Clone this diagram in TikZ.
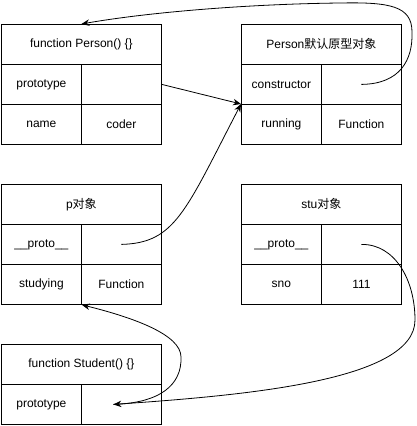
\documentclass[tikz,border=0pt]{standalone}
\usepackage{fontspec}
\setmainfont{Liberation Sans}
\newfontfamily\cjk{Noto Sans CJK SC}
\usetikzlibrary{arrows.meta}
\begin{document}
\begin{tikzpicture}[x=1pt,y=-1pt,
  cell/.style={draw, line width=0.8pt, minimum width=80pt, minimum height=40pt, inner sep=0pt, anchor=north west, font=\fontsize{12}{14}\selectfont},
  head/.style={cell, minimum width=160pt},
  link/.style={line width=0.8pt, -{Stealth[length=8pt,width=6.5pt]}}]
\useasboundingbox (0,0) rectangle (417,426);
% Person constructor
\node[head] (ph) at (1,24) {function Person() \{\}};
\node[cell] (ppk) at (1,64) {prototype};
\node[cell] (ppv) at (81,64) {};
\node[cell] (pnk) at (1,104) {name};
\node[cell] (pnv) at (81,104) {coder};
% Person prototype object
\node[head] (oh) at (241,24) {Person{\cjk 默认原型对象}};
\node[cell] (ock) at (241,64) {constructor};
\node[cell] (ocv) at (321,64) {};
\node[cell] (ork) at (241,104) {running};
\node[cell] (orv) at (321,104) {Function};
% p object
\node[head] (xh) at (1,184) {p{\cjk 对象}};
\node[cell] (xpk) at (1,224) {\_\_proto\_\_};
\node[cell] (xpv) at (81,224) {};
\node[cell] (xsk) at (1,264) {studying};
\node[cell] (xsv) at (81,264) {Function};
% stu object
\node[head] (sh) at (241,184) {stu{\cjk 对象}};
\node[cell] (spk) at (241,224) {\_\_proto\_\_};
\node[cell] (spv) at (321,224) {};
\node[cell] (snk) at (241,264) {sno};
\node[cell] (snv) at (321,264) {111};
% Student constructor
\node[head] (th) at (1,344) {function Student() \{\}};
\node[cell] (tpk) at (1,384) {prototype};
\node[cell] (tpv) at (81,384) {};
\coordinate (tin) at ([xshift=-8pt]tpv.center);
% connectors
\draw[link] (ocv.center) .. controls (400,84) and (413,60) .. (412,32)
  .. controls (412,6) and (390,2) .. (340,3)
  .. controls (250,4) and (150,12) .. (ph.north);
\draw[link] (ppv.east) -- (ork.north west);
\draw[link] (xpv.center) .. controls (175,243) and (185,212) .. (ork.north west);
\draw[link] (tin) .. controls (160,403) and (182,385) .. (181,357)
  .. controls (181,335) and (135,318) .. (xsk.south east);
\draw[link] (spv.center) .. controls (395,244) and (415,280) .. (415,320)
  .. controls (415,380) and (250,395) .. (tin);
\end{tikzpicture}
\end{document}
